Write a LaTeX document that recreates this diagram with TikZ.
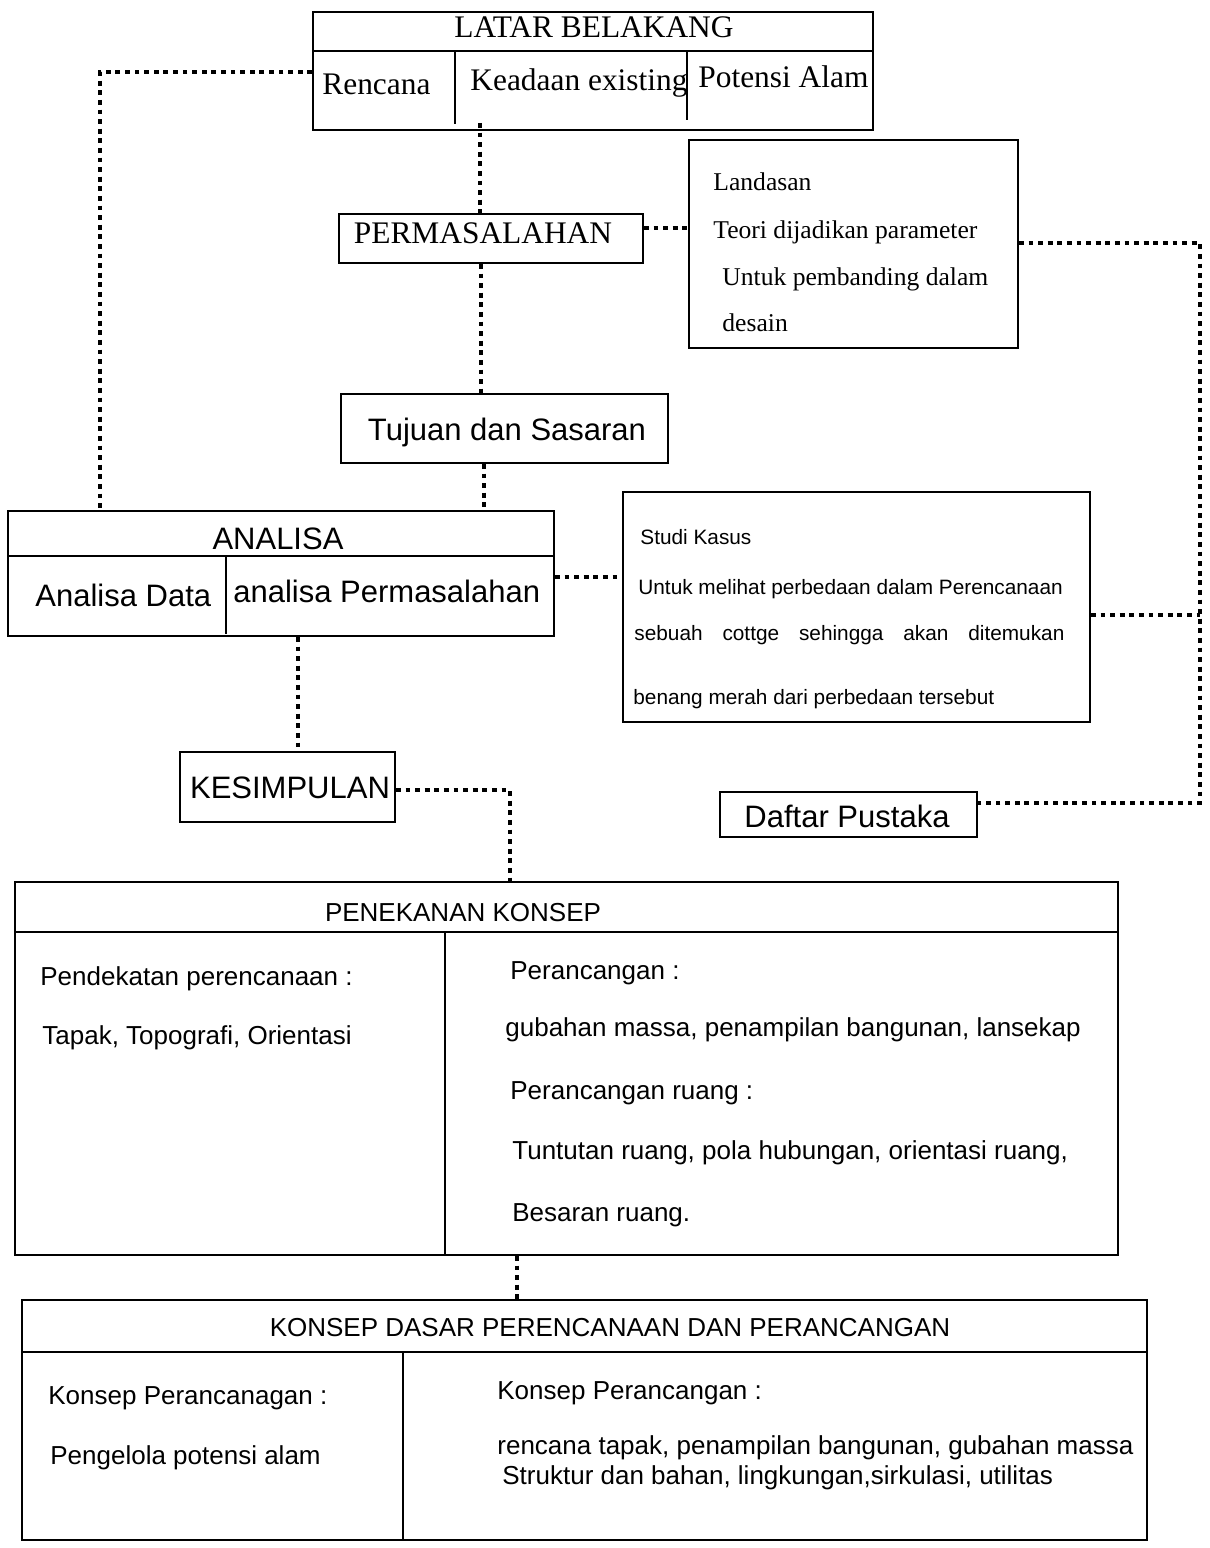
\documentclass[tikz,border=0pt]{standalone}
\usepackage{fontspec}
\setmainfont{Liberation Serif}
\newfontfamily\arialf{Liberation Sans}
\usetikzlibrary{fit}
\begin{document}
\begin{tikzpicture}[x=0.5pt,y=-0.5pt,
  box/.style={draw=black,line width=0.9pt,inner sep=0pt},
  dots/.style={draw=black,line width=2.4pt,dash pattern=on 2.4pt off 2.4pt},
  divl/.style={draw=black,line width=0.9pt},
  serA/.style={font=\fontsize{15.7}{18}\selectfont,inner sep=0pt},
  serB/.style={font=\fontsize{12.8}{15}\selectfont,inner sep=0pt},
  sanA/.style={font=\arialf\fontsize{15.5}{18}\selectfont,inner sep=0pt},
  sanB/.style={font=\arialf\fontsize{10.4}{12}\selectfont,inner sep=0pt},
  sanC/.style={font=\arialf\fontsize{13}{15}\selectfont,inner sep=0pt}]
\useasboundingbox[fill=white] (0,0) rectangle (1210,1548);

% ---------- boxes ----------
\node[box,fit={(313,12) (873,130)}] (latar) {};
\draw[divl] (313,51) -- (873,51);
\draw[divl] (455,51) -- (455,124);
\draw[divl] (687,51) -- (687,120);
\node[serA,anchor=base] (tlatar) at (594,37) {LATAR BELAKANG};
\node[serA,anchor=base west] (trenc) at (322,94) {Rencana};
\node[serA,anchor=base west] (tkead) at (470,90) {Keadaan existing};
\node[serA,anchor=base west] (tpot) at (698,87) {Potensi Alam};

\node[box,fit={(339,214) (643,263)}] (perm) {};
\node[serA,anchor=base] (tperm) at (483,243) {PERMASALAHAN};

\node[box,fit={(689,140) (1018,348)}] (land) {};
\node[serB,anchor=base west] (tl1) at (713,190) {Landasan};
\node[serB,anchor=base west] (tl2) at (713,238) {Teori dijadikan parameter};
\node[serB,anchor=base west] (tl3) at (722,285) {Untuk pembanding dalam};
\node[serB,anchor=base west] (tl4) at (722,331) {desain};

\node[box,fit={(341,394) (668,463)}] (tujuan) {};
\node[sanA,anchor=base] (ttuj) at (507,440) {Tujuan dan Sasaran};

\node[box,fit={(8,511) (554,636)}] (analisa) {};
\draw[divl] (8,556) -- (554,556);
\draw[divl] (226,556) -- (226,634);
\node[sanA,anchor=base] (tana) at (278,549) {ANALISA};
\node[sanA,anchor=base west] (tana1) at (35,606) {Analisa Data};
\node[sanA,anchor=base west] (tana2) at (233,602) {analisa Permasalahan};

\node[box,fit={(623,492) (1090,722)}] (studi) {};
\node[sanB,anchor=base west] (ts1) at (640,544) {Studi Kasus};
\node[sanB,anchor=base west] (ts2) at (638,594) {Untuk melihat perbedaan dalam Perencanaan};
\node[sanB,anchor=base west] (ts3) at (634,640) {\makebox[215pt][s]{sebuah cottge sehingga akan ditemukan}};
\node[sanB,anchor=base west] (ts4) at (633,704) {benang merah dari perbedaan tersebut};

\node[box,fit={(180,752) (395,822)}] (kesim) {};
\node[sanA,anchor=base] (tkes) at (290,798) {KESIMPULAN};

\node[box,fit={(720,792) (977,837)}] (daftar) {};
\node[sanA,anchor=base] (tdaf) at (847,827) {Daftar Pustaka};

\node[box,fit={(15,882) (1118,1255)}] (penek) {};
\draw[divl] (15,932) -- (1118,932);
\draw[divl] (445,932) -- (445,1255);
\node[sanC,anchor=base] (tpen) at (463,921) {PENEKANAN KONSEP};
\node[sanC,anchor=base west] (tp1) at (40,985) {Pendekatan perencanaan :};
\node[sanC,anchor=base west] (tp2) at (42,1044) {Tapak, Topografi, Orientasi};
\node[sanC,anchor=base west] (tp3) at (510,979) {Perancangan :};
\node[sanC,anchor=base west] (tp4) at (505,1036) {gubahan massa, penampilan bangunan, lansekap};
\node[sanC,anchor=base west] (tp5) at (510,1099) {Perancangan ruang :};
\node[sanC,anchor=base west] (tp6) at (512,1159) {Tuntutan ruang, pola hubungan, orientasi ruang,};
\node[sanC,anchor=base west] (tp7) at (512,1221) {Besaran ruang.};

\node[box,fit={(22,1300) (1147,1540)}] (konsep) {};
\draw[divl] (22,1352) -- (1147,1352);
\draw[divl] (403,1352) -- (403,1540);
\node[sanC,anchor=base] (tkon) at (610,1336) {KONSEP DASAR PERENCANAAN DAN PERANCANGAN};
\node[sanC,anchor=base west] (tk1) at (48,1404) {Konsep Perancanagan :};
\node[sanC,anchor=base west] (tk2) at (50,1464) {Pengelola potensi alam};
\node[sanC,anchor=base west] (tk3) at (497,1399) {Konsep Perancangan :};
\node[sanC,anchor=base west] (tk4) at (497,1454) {rencana tapak, penampilan bangunan, gubahan massa};
\node[sanC,anchor=base west] (tk5) at (502,1484) {Struktur dan bahan, lingkungan,sirkulasi, utilitas};

% ---------- connector helper coordinates ----------
\coordinate (lcorner) at (100,72);
\coordinate (kcorner) at (510,790);
\coordinate (rtop) at (1200,243);
\coordinate (rmid) at (1200,615);
\coordinate (rbot) at (1200,803);

% ---------- connectors ----------
\draw[dots] (latar.west |- lcorner) -- (lcorner) -- (analisa.north -| lcorner);
\draw[dots] ([yshift=4pt]latar.south -| 480,0) -- (perm.north -| 480,0);
\draw[dots] (perm.east |- 0,228) -- (land.west |- 0,228);
\draw[dots] (perm.south -| 481,0) -- (tujuan.north -| 481,0);
\draw[dots] (tujuan.south -| 484,0) -- (analisa.north -| 484,0);
\draw[dots] (analisa.east |- 0,577) -- (studi.west |- 0,577);
\draw[dots] (analisa.south -| 298,0) -- (kesim.north -| 298,0);
\draw[dots] (kesim.east |- kcorner) -- (kcorner) -- (penek.north -| kcorner);
\draw[dots] (land.east |- rtop) -- (rtop) -- (rbot) -- (daftar.east |- rbot);
\draw[dots] (studi.east |- rmid) -- (rmid);
\draw[dots] (penek.south -| 517,0) -- (konsep.north -| 517,0);
\end{tikzpicture}
\end{document}
